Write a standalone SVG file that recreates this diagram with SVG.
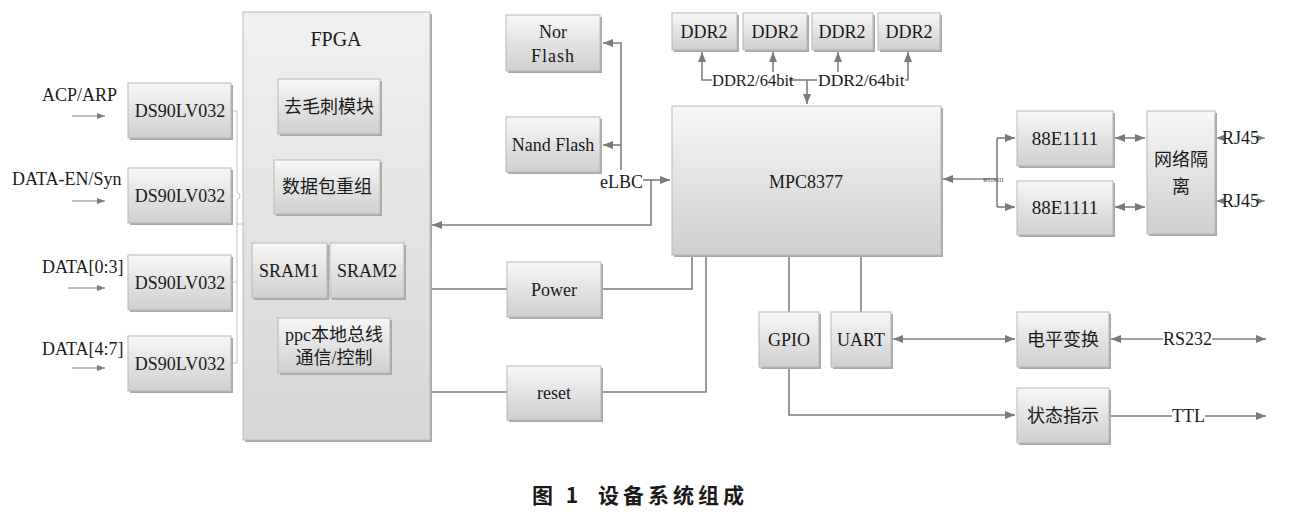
<svg xmlns="http://www.w3.org/2000/svg" width="1300" height="516" viewBox="0 0 1300 516">
<defs>
<linearGradient id="g" x1="0" y1="0" x2="0" y2="1">
<stop offset="0" stop-color="#f7f7f7"/>
<stop offset="1" stop-color="#cfcfcf"/>
</linearGradient>
<linearGradient id="gf" x1="0" y1="0" x2="0" y2="1">
<stop offset="0" stop-color="#f1f1f1"/>
<stop offset="1" stop-color="#d6d6d6"/>
</linearGradient>
<marker id="a" viewBox="0 0 10 8" refX="10" refY="4" markerWidth="10" markerHeight="8" markerUnits="userSpaceOnUse" orient="auto-start-reverse">
<path d="M0,0 L10,4 L0,8 Z" fill="#7a7a7a"/>
</marker>
<marker id="s" viewBox="0 0 8 6" refX="8" refY="3" markerWidth="8" markerHeight="6" markerUnits="userSpaceOnUse" orient="auto-start-reverse">
<path d="M0,0 L8,3 L0,6 Z" fill="#7a7a7a"/>
</marker>
</defs>
<style>
.b{fill:url(#g);stroke:#b8b8b8;stroke-width:1}
.f{fill:url(#gf);stroke:#bdbdbd;stroke-width:1}
.sh{fill:#a9a9a9}
.t{font-family:"Liberation Serif","Noto Sans CJK SC",serif;font-size:18px;fill:#1a1a1a;text-anchor:middle}
.l{font-family:"Liberation Serif","Noto Sans CJK SC",serif;font-size:18px;fill:#1a1a1a}
.c{stroke:#7f7f7f;stroke-width:1.6;fill:none}
.th{stroke:#c4c4c4;stroke-width:1;fill:none}
.cap{font-family:"Noto Sans CJK SC",sans-serif;font-size:21px;font-weight:bold;fill:#1a1a1a}
</style>
<rect width="1300" height="516" fill="#ffffff"/>

<g id="connectors">
<line class="c" x1="72" y1="116" x2="105" y2="116" style="stroke-width:1" marker-end="url(#s)"/>
<line class="c" x1="72" y1="201" x2="105" y2="201" style="stroke-width:1" marker-end="url(#s)"/>
<line class="c" x1="68" y1="288" x2="105" y2="288" style="stroke-width:1" marker-end="url(#s)"/>
<line class="c" x1="72" y1="368" x2="105" y2="368" style="stroke-width:1" marker-end="url(#s)"/>
<path class="th" d="M232,111 H237 V193 M237,199 V363 M232,282 H237 M232,363 H237 M237,224 H243 M232,196 H234"/>
<path class="th" d="M237,193 A3,3 0 0 1 237,199"/>
<path class="c" d="M621,170 V43 H603" marker-end="url(#a)"/>
<path class="c" d="M621,145 H603" marker-end="url(#a)"/>
<path class="c" d="M643,180 H670" marker-end="url(#a)"/>
<path class="c" d="M651,180 V225 H432" marker-end="url(#a)"/>
<path class="c" d="M712,80 H702 V52" marker-end="url(#a)"/>
<path class="c" d="M773,72 V52" marker-end="url(#a)"/>
<path class="c" d="M838,72 V52" marker-end="url(#a)"/>
<path class="c" d="M905,80 H908 V52" marker-end="url(#a)"/>
<path class="c" d="M789,80 H817"/>
<path class="c" d="M807,80 V104" marker-end="url(#a)"/>
<path class="c" d="M997,179 H943" marker-end="url(#a)"/>
<path class="c" d="M997,138 V207"/>
<path class="c" d="M997,138 H1015" marker-end="url(#a)"/>
<path class="c" d="M997,207 H1015" marker-end="url(#a)"/>
<path class="c" d="M1115,138 H1145" marker-start="url(#a)" marker-end="url(#a)"/>
<path class="c" d="M1115,207 H1145" marker-start="url(#a)" marker-end="url(#a)"/>
<path class="c" d="M1222,138 H1216" style="stroke-width:1" marker-end="url(#s)"/>
<path class="c" d="M1258,138 H1265" style="stroke-width:1" marker-end="url(#s)"/>
<path class="c" d="M1222,201 H1216" style="stroke-width:1" marker-end="url(#s)"/>
<path class="c" d="M1258,201 H1265" style="stroke-width:1" marker-end="url(#s)"/>
<path class="c" d="M430,289 H507 M601,289 H692 V255"/>
<path class="c" d="M430,392 H507 M601,392 H706 V255"/>
<path class="c" d="M789,255 V312 M861,255 V312"/>
<path class="c" d="M789,367 V415 H1015" marker-end="url(#a)"/>
<path class="c" d="M893,339 H1015" marker-start="url(#a)" marker-end="url(#a)"/>
<path class="c" d="M1163,339 H1111" marker-end="url(#a)"/>
<path class="c" d="M1212,339 H1266" marker-end="url(#a)"/>
<path class="c" d="M1109,416 H1172 M1205,416 H1266" marker-end="url(#a)"/>
</g>

<g id="labels">
<text class="l" x="42" y="101">ACP/ARP</text>
<text class="l" x="12" y="185">DATA-EN/Syn</text>
<text class="l" x="42" y="273">DATA[0:3]</text>
<text class="l" x="42" y="355">DATA[4:7]</text>
<text class="l" x="600" y="188">eLBC</text>
<text class="l" x="712" y="86" style="font-size:16.5px">DDR2/64bit</text>
<text class="l" x="818" y="86" style="font-size:17.5px">DDR2/64bit</text>
<text class="l" x="983" y="182" style="font-size:7px;fill:#555">RGMII</text>
<text class="l" x="1222" y="144">RJ45</text>
<text class="l" x="1222" y="207">RJ45</text>
<text class="l" x="1163" y="345">RS232</text>
<text class="l" x="1172" y="422">TTL</text>
</g>

<g id="ds1"><rect class="sh" x="130" y="85" width="103" height="55"/><rect class="b" x="128" y="83" width="103" height="55"/><text class="t" x="180" y="117">DS90LV032</text></g>
<g id="ds2"><rect class="sh" x="130" y="170" width="103" height="55"/><rect class="b" x="128" y="168" width="103" height="55"/><text class="t" x="180" y="202">DS90LV032</text></g>
<g id="ds3"><rect class="sh" x="130" y="257" width="103" height="55"/><rect class="b" x="128" y="255" width="103" height="55"/><text class="t" x="180" y="289">DS90LV032</text></g>
<g id="ds4"><rect class="sh" x="130" y="338" width="103" height="55"/><rect class="b" x="128" y="336" width="103" height="55"/><text class="t" x="180" y="370">DS90LV032</text></g>

<g id="fpga">
<rect class="sh" x="245" y="14" width="187" height="428"/>
<rect class="f" x="243" y="12" width="187" height="428"/>
<text class="t" x="336" y="46" style="font-size:20px">FPGA</text>
</g>
<g id="qumaoci"><rect class="sh" x="280" y="81" width="102" height="55"/><rect class="b" x="278" y="79" width="102" height="55"/><text class="t" x="329" y="113">去毛刺模块</text></g>
<g id="shujubao"><rect class="sh" x="276" y="162" width="106" height="54"/><rect class="b" x="274" y="160" width="106" height="54"/><text class="t" x="327" y="193">数据包重组</text></g>
<g id="sram1"><rect class="sh" x="254" y="245" width="75" height="55"/><rect class="b" x="252" y="243" width="75" height="55"/><text class="t" x="289" y="277">SRAM1</text></g>
<g id="sram2"><rect class="sh" x="332" y="245" width="74" height="55"/><rect class="b" x="330" y="243" width="74" height="55"/><text class="t" x="367" y="277">SRAM2</text></g>
<g id="ppc"><rect class="sh" x="280" y="320" width="112" height="55"/><rect class="b" x="278" y="318" width="112" height="55"/><text class="t" x="334" y="341">ppc本地总线</text><text class="t" x="334" y="364">通信/控制</text></g>

<g id="norflash"><rect class="sh" x="508" y="17" width="94" height="56"/><rect class="b" x="506" y="15" width="94" height="56"/><text class="t" x="553" y="38">Nor</text><text class="t" x="553" y="62" style="letter-spacing:1px">Flash</text></g>
<g id="nandflash"><rect class="sh" x="508" y="119" width="94" height="55"/><rect class="b" x="506" y="117" width="94" height="55"/><text class="t" x="553" y="151">Nand Flash</text></g>
<g id="power"><rect class="sh" x="509" y="264" width="94" height="55"/><rect class="b" x="507" y="262" width="94" height="55"/><text class="t" x="554" y="296">Power</text></g>
<g id="reset"><rect class="sh" x="509" y="368" width="94" height="54"/><rect class="b" x="507" y="366" width="94" height="54"/><text class="t" x="554" y="399">reset</text></g>

<g id="ddr1"><rect class="sh" x="674" y="15" width="65" height="37"/><rect class="b" x="672" y="13" width="65" height="37"/><text class="t" x="704" y="38">DDR2</text></g>
<g id="ddr2"><rect class="sh" x="745" y="15" width="64" height="37"/><rect class="b" x="743" y="13" width="64" height="37"/><text class="t" x="775" y="38">DDR2</text></g>
<g id="ddr3"><rect class="sh" x="814" y="15" width="61" height="37"/><rect class="b" x="812" y="13" width="61" height="37"/><text class="t" x="842" y="38">DDR2</text></g>
<g id="ddr4"><rect class="sh" x="880" y="15" width="62" height="37"/><rect class="b" x="878" y="13" width="62" height="37"/><text class="t" x="909" y="38">DDR2</text></g>

<g id="mpc8377"><rect class="sh" x="674" y="108" width="269" height="149"/><rect class="b" x="672" y="106" width="269" height="149"/><text class="t" x="806" y="188">MPC8377</text></g>

<g id="phy1"><rect class="sh" x="1019" y="113" width="96" height="55"/><rect class="b" x="1017" y="111" width="96" height="55"/><text class="t" x="1065" y="145" style="font-size:19px">88E1111</text></g>
<g id="phy2"><rect class="sh" x="1019" y="183" width="96" height="54"/><rect class="b" x="1017" y="181" width="96" height="54"/><text class="t" x="1065" y="214" style="font-size:19px">88E1111</text></g>
<g id="wangluo"><rect class="sh" x="1149" y="113" width="68" height="123"/><rect class="b" x="1147" y="111" width="68" height="123"/><text class="t" x="1181" y="166">网络隔</text><text class="t" x="1181" y="193">离</text></g>

<g id="gpio"><rect class="sh" x="761" y="314" width="60" height="55"/><rect class="b" x="759" y="312" width="60" height="55"/><text class="t" x="789" y="346">GPIO</text></g>
<g id="uart"><rect class="sh" x="833" y="314" width="60" height="55"/><rect class="b" x="831" y="312" width="60" height="55"/><text class="t" x="861" y="346">UART</text></g>
<g id="dianping"><rect class="sh" x="1019" y="314" width="92" height="55"/><rect class="b" x="1017" y="312" width="92" height="55"/><text class="t" x="1063" y="346">电平变换</text></g>
<g id="zhuangtai"><rect class="sh" x="1019" y="390" width="92" height="55"/><rect class="b" x="1017" y="388" width="92" height="55"/><text class="t" x="1063" y="422">状态指示</text></g>

<text class="cap" x="532" y="503" style="word-spacing:8px">图 1<tspan x="598" style="letter-spacing:4px">设备系统组成</tspan></text>
</svg>
